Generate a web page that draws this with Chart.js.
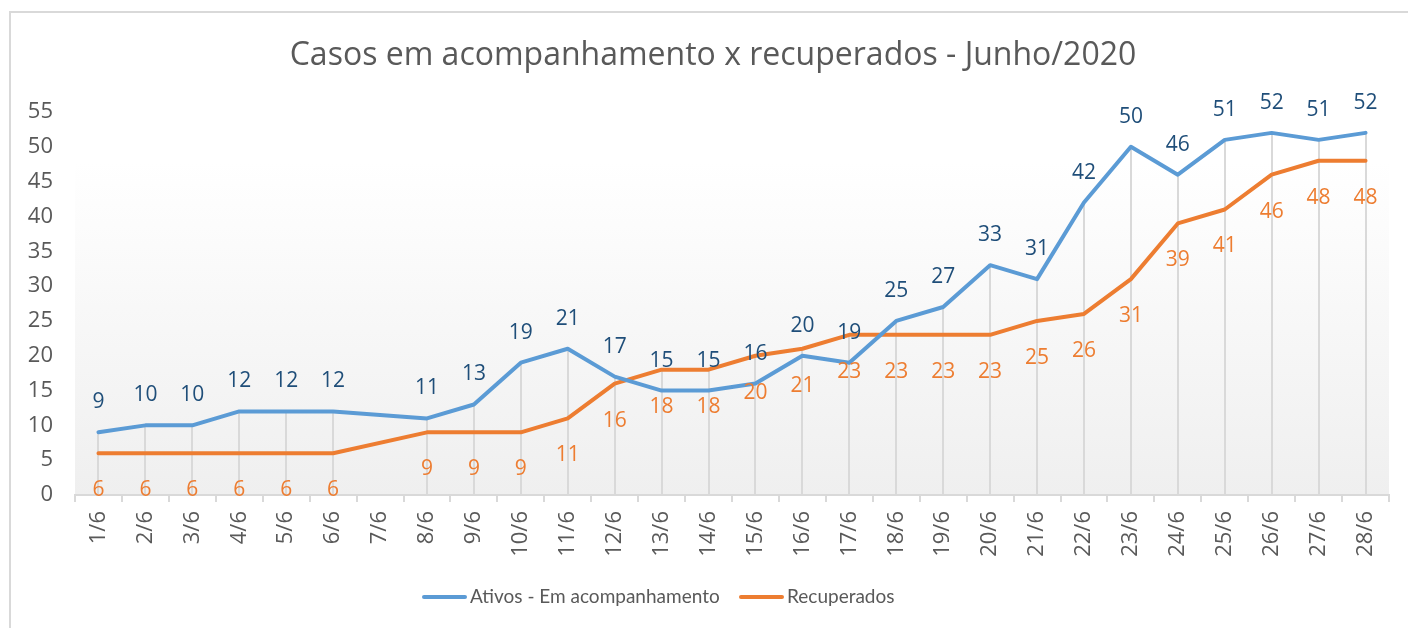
<!DOCTYPE html>
<html>
<head>
<meta charset="utf-8">
<script src="https://cdn.jsdelivr.net/npm/chart.js@4.4.1/dist/chart.umd.min.js"></script>
<style>
html,body{margin:0;padding:0;background:#fff;}
#wrap{width:1408px;height:628px;position:relative;}
</style>
</head>
<body>
<div id="wrap"><canvas id="c" width="1408" height="628"></canvas></div>
<script>
const titleText = "Casos em acompanhamento x recuperados - Junho/2020";
const categories = ["1/6","2/6","3/6","4/6","5/6","6/6","7/6","8/6","9/6","10/6","11/6","12/6","13/6","14/6","15/6","16/6","17/6","18/6","19/6","20/6","21/6","22/6","23/6","24/6","25/6","26/6","27/6","28/6"];
const ativos = [9,10,10,12,12,12,null,11,13,19,21,17,15,15,16,20,19,25,27,33,31,42,50,46,51,52,51,52];
const recuperados = [6,6,6,6,6,6,null,9,9,9,11,16,18,18,20,21,23,23,23,23,25,26,31,39,41,46,48,48];
const seriesNames = ["Ativos - Em acompanhamento","Recuperados"];
const yTicks = [0,5,10,15,20,25,30,35,40,45,50,55];

const FONT = "'Open Sans', 'Noto Sans', sans-serif";
const LEG_FONT = "Lato, 'Open Sans', sans-serif";
const BLUE = "#5b9bd5", ORANGE = "#ed7d31", BLUE_LBL = "#1f4e79", GRAY_TXT = "#595959", LINE_GRAY = "#d9d9d9";

const decor = {
  id: 'decor',
  beforeDraw(chart) {
    const ctx = chart.ctx, a = chart.chartArea, y = chart.scales.y;
    ctx.save();
    ctx.strokeStyle = LINE_GRAY; ctx.lineWidth = 2;
    ctx.beginPath(); ctx.moveTo(10, 640); ctx.lineTo(10, 12); ctx.lineTo(1420, 12); ctx.stroke();
    const gTop = y.getPixelForValue(55) + 50;
    const g = ctx.createLinearGradient(0, gTop, 0, a.bottom);
    g.addColorStop(0, '#ffffff'); g.addColorStop(1, '#efefef');
    ctx.fillStyle = g;
    ctx.fillRect(a.left, gTop, a.right - a.left, a.bottom - gTop);
    ctx.fillStyle = GRAY_TXT;
    ctx.font = "32px " + FONT;
    ctx.textAlign = 'center'; ctx.textBaseline = 'alphabetic';
    ctx.fillText(titleText, 713, 65);
    ctx.restore();
  },
  beforeDatasetsDraw(chart) {
    const ctx = chart.ctx, x = chart.scales.x, y = chart.scales.y, a = chart.chartArea;
    ctx.save();
    ctx.strokeStyle = LINE_GRAY; ctx.lineWidth = 2;
    categories.forEach((c, i) => {
      const vals = [ativos[i], recuperados[i]].filter(v => v !== null);
      if (!vals.length) return;
      const px = Math.round(x.getPixelForValue(i));
      ctx.beginPath(); ctx.moveTo(px, y.getPixelForValue(Math.max(...vals))); ctx.lineTo(px, a.bottom); ctx.stroke();
    });
    ctx.restore();
  },
  afterDatasetsDraw(chart) {
    const ctx = chart.ctx;
    ctx.save();
    ctx.font = "21px " + FONT;
    ctx.textAlign = 'center'; ctx.textBaseline = 'alphabetic';
    const m0 = chart.getDatasetMeta(0), m1 = chart.getDatasetMeta(1);
    ativos.forEach((v, i) => {
      if (v === null) return;
      const p = m0.data[i];
      ctx.fillStyle = BLUE_LBL; ctx.fillText(String(v), p.x, p.y - 24);
    });
    recuperados.forEach((v, i) => {
      if (v === null) return;
      const p = m1.data[i];
      ctx.fillStyle = ORANGE; ctx.fillText(String(v), p.x, p.y + 43);
    });
    ctx.font = "19px " + LEG_FONT;
    ctx.textAlign = 'left'; ctx.textBaseline = 'middle';
    ctx.lineCap = 'round'; ctx.lineWidth = 4;
    const ly = 597;
    [[seriesNames[0], BLUE, 424], [seriesNames[1], ORANGE, 741]].forEach(([t, col, lx]) => {
      ctx.strokeStyle = col;
      ctx.beginPath(); ctx.moveTo(lx, ly); ctx.lineTo(lx + 41, ly); ctx.stroke();
      ctx.fillStyle = GRAY_TXT;
      ctx.fillText(t, lx + 46, ly);
    });
    ctx.restore();
  }
};

new Chart(document.getElementById('c'), {
  type: 'line',
  data: {
    labels: categories,
    datasets: [
      { label: seriesNames[0], data: ativos, borderColor: BLUE, backgroundColor: BLUE, borderWidth: 4, pointRadius: 0, tension: 0, spanGaps: true, borderJoinStyle: 'round', borderCapStyle: 'round' },
      { label: seriesNames[1], data: recuperados, borderColor: ORANGE, backgroundColor: ORANGE, borderWidth: 4, pointRadius: 0, tension: 0, spanGaps: true, borderJoinStyle: 'round', borderCapStyle: 'round' }
    ]
  },
  options: {
    responsive: false,
    animation: false,
    events: [],
    layout: { padding: { top: 112, left: 0, right: 19, bottom: 0 } },
    plugins: { legend: { display: false }, title: { display: false }, tooltip: { enabled: false } },
    scales: {
      x: {
        offset: true,
        grid: { display: true, drawOnChartArea: false, drawTicks: true, tickLength: 7, color: LINE_GRAY, lineWidth: 2, offset: true },
        border: { display: true, color: LINE_GRAY, width: 2 },
        ticks: { color: GRAY_TXT, font: { family: FONT, size: 22 }, minRotation: 90, maxRotation: 90, padding: 9, autoSkip: false },
        afterFit(s) { s.height = 133; }
      },
      y: {
        min: 0, max: 55,
        afterBuildTicks(s) { s.ticks = yTicks.map(v => ({ value: v })); },
        grid: { display: false, drawTicks: false },
        border: { display: false },
        ticks: { color: GRAY_TXT, font: { family: FONT, size: 22 }, padding: 22 },
        afterFit(s) { s.width = 75; }
      }
    }
  },
  plugins: [decor]
});
</script>
</body>
</html>
